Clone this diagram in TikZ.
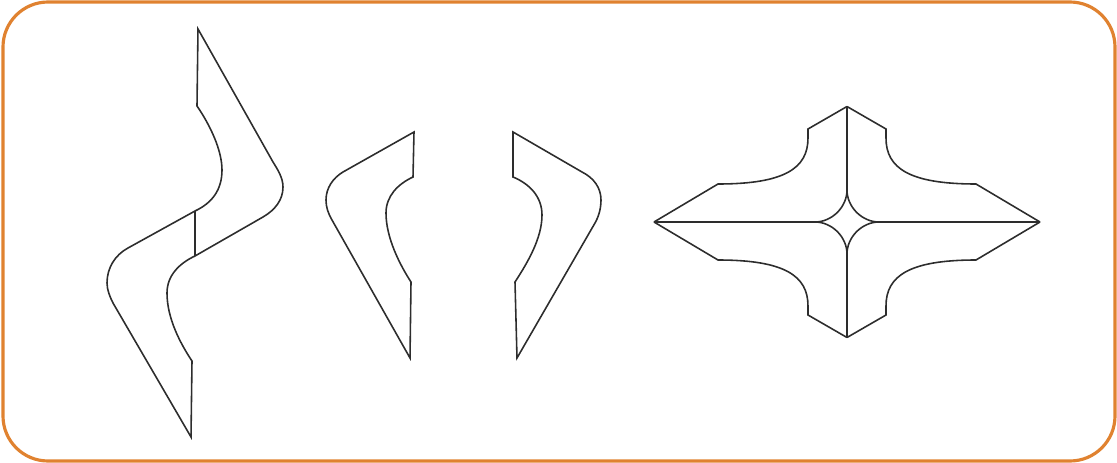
\documentclass[tikz,border=0pt]{standalone}
\usepackage{xcolor}
\usepackage{tikz}
\definecolor{frameorange}{RGB}{224, 130, 48}
\definecolor{outlinegray}{RGB}{45, 45, 45}

\begin{document}
\begin{tikzpicture}[
    x=0.02cm, y=-0.02cm,
    frame/.style={draw=frameorange, line width=1.8pt, rounded corners=0.9cm},
    outline/.style={draw=outlinegray, line width=0.9pt, line join=miter}
]
    \useasboundingbox (0,0) rectangle (1117,463);
    \path[frame] (3,2) rectangle (1115,461);

    % long piece
    \coordinate (longup) at (195,211);
    \coordinate (longdown) at (195,256);
    \path[outline] (198,29) -- (197,106)
        .. controls (210,125) and (222,150) .. (222,170)
        .. controls (222,190) and (212,203) .. (longup)
        -- (128,248)
        .. controls (115,255) and (107,268) .. (107,283)
        .. controls (107,290) and (110,297) .. (113,303)
        -- (191,437) -- (192,361)
        .. controls (180,343) and (167,318) .. (167,293)
        .. controls (167,275) and (180,263) .. (longdown)
        -- (263,217)
        .. controls (275,210) and (283,200) .. (283,187)
        .. controls (283,178) and (278,170) .. (273,162)
        -- cycle;
    \draw[outline] (longup) -- (longdown);

    % left half
    \path[outline] (414,132) -- (413,177)
        .. controls (398,184) and (386,196) .. (386,213)
        .. controls (386,238) and (400,265) .. (411,282)
        -- (410,358) -- (332,220)
        .. controls (328,213) and (326,207) .. (326,200)
        .. controls (326,188) and (333,178) .. (343,172)
        -- cycle;

    % right half
    \path[outline] (513,132) -- (513,177)
        .. controls (530,184) and (542,197) .. (542,215)
        .. controls (542,238) and (528,262) .. (515,282)
        -- (517,358) -- (595,223)
        .. controls (599,216) and (601,208) .. (601,200)
        .. controls (601,188) and (594,178) .. (582,172)
        -- cycle;

    % cross
    \coordinate (crosstop) at (847,106.5);
    \coordinate (crossbot) at (847,337.5);
    \coordinate (crossleft) at (654,222);
    \coordinate (crossright) at (1040,222);
    \coordinate (cusptop) at (847,190);
    \coordinate (cuspbot) at (847,254);
    \coordinate (cuspleft) at (815,222);
    \coordinate (cuspright) at (879,222);
    \foreach \sx/\sy in {-1/-1, 1/-1, -1/1, 1/1} {
        \begin{scope}[shift={(847,222)}, xscale=\sx, yscale=\sy]
            \path[outline] (0,-115.5) -- (-39,-93) -- (-39,-84)
                .. controls (-39,-54) and (-62,-38) .. (-129,-38)
                -- (-193,0);
            \path[outline] (0,-32) .. controls (0,-15) and (-15,0) .. (-32,0);
        \end{scope}
    }
    \draw[outline] (crosstop) -- (cusptop);
    \draw[outline] (cuspbot) -- (crossbot);
    \draw[outline] (crossleft) -- (cuspleft);
    \draw[outline] (cuspright) -- (crossright);
\end{tikzpicture}
\end{document}
